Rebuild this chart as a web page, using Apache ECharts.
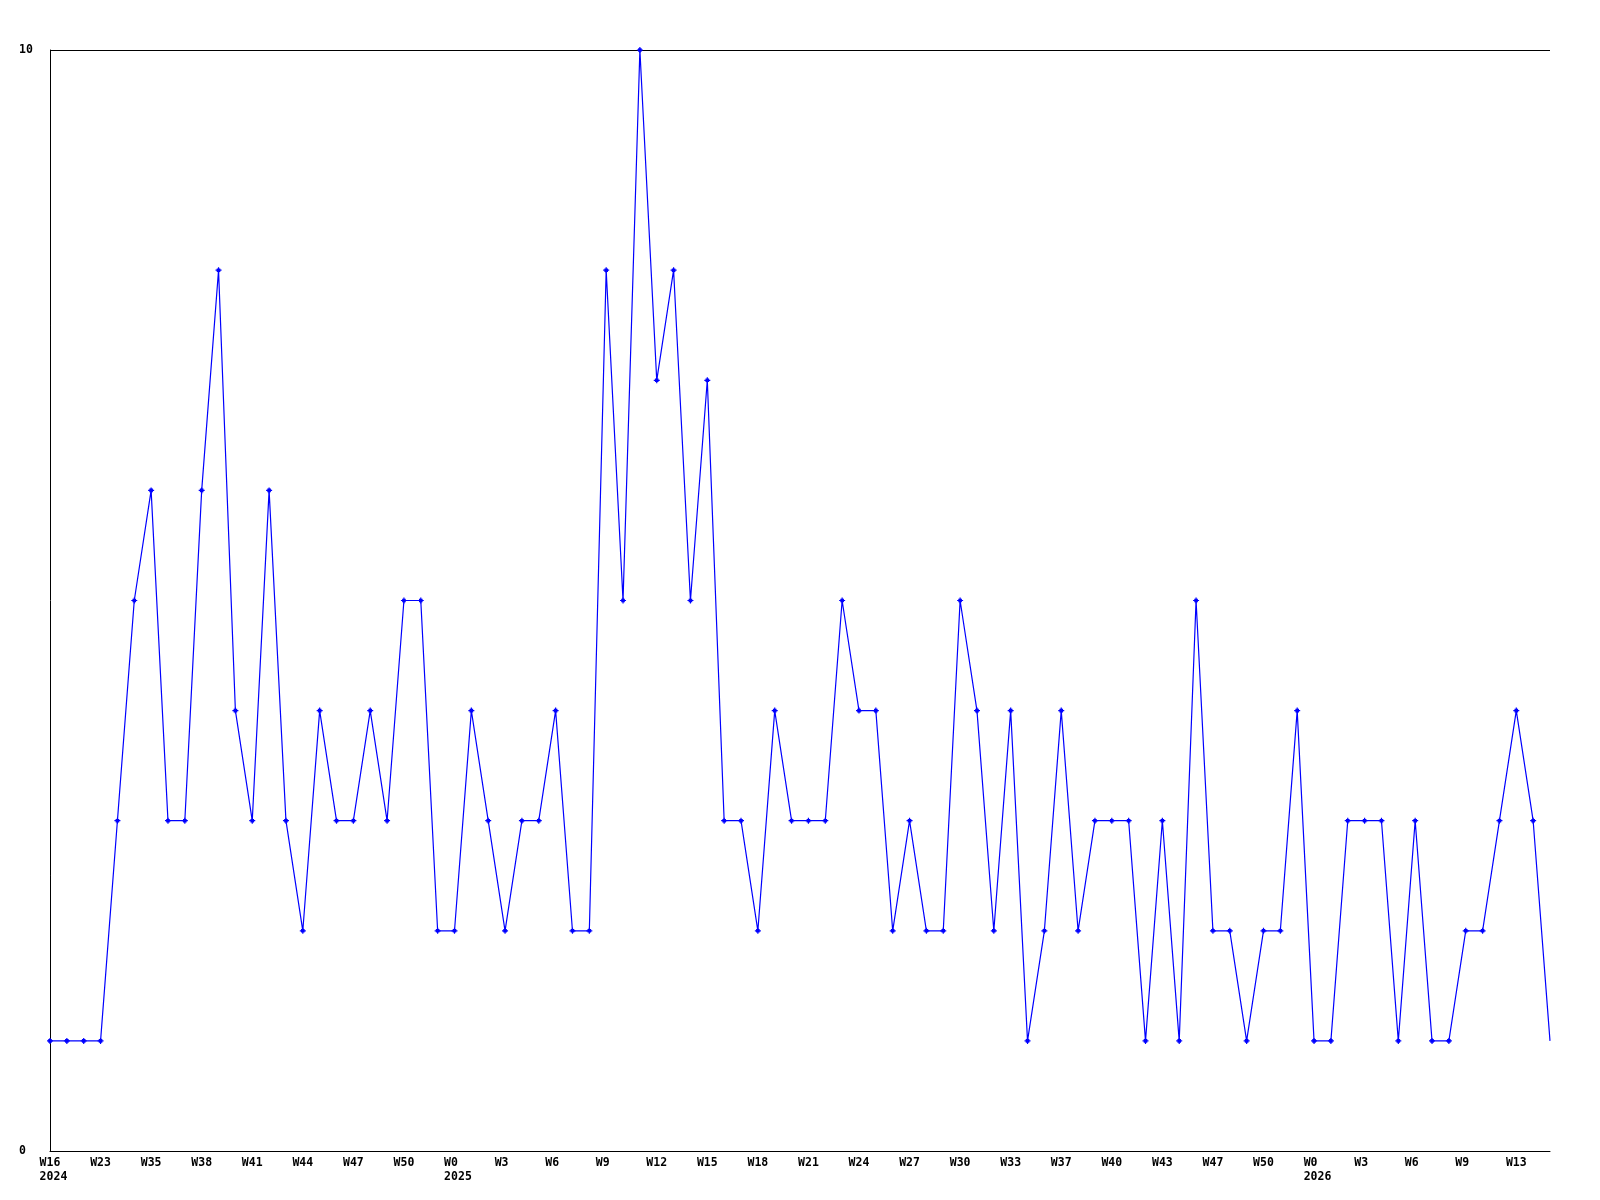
<!DOCTYPE html>
<html>
<head>
<meta charset="utf-8">
<script src="https://cdn.jsdelivr.net/npm/echarts@6/dist/echarts.min.js"></script>
<style>
html,body{margin:0;padding:0;background:#fff;}
#chart{width:1600px;height:1200px;}
</style>
</head>
<body>
<div id="chart"></div>
<script>
// Week categories (one per point)
const weeks = [
  "W16","W17","W22","W23","W33","W34","W35","W36","W37","W38",
  "W39","W40","W41","W42","W43","W44","W45","W46","W47","W48",
  "W49","W50","W51","W52","W0","W1","W2","W3","W4","W5",
  "W6","W7","W8","W9","W10","W11","W12","W13","W14","W15",
  "W16","W17","W18","W19","W20","W21","W22","W23","W24","W25",
  "W26","W27","W28","W29","W30","W31","W32","W33","W35","W36",
  "W37","W38","W39","W40","W41","W42","W43","W45","W46","W47",
  "W48","W49","W50","W51","W52","W0","W1","W2","W3","W4",
  "W5","W6","W7","W8","W9","W11","W12","W13","W14","W15"
];
// Year shown under the label at these category indices
const yearLabels = {0: "2024", 24: "2025", 75: "2026"};
// Values
const values = [
  1,1,1,1,3,5,6,3,3,6,
  8,4,3,6,3,2,4,3,3,4,
  3,5,5,2,2,4,3,2,3,3,
  4,2,2,8,5,10,7,8,5,7,
  3,3,2,4,3,3,3,5,4,4,
  2,3,2,2,5,4,2,4,1,2,
  4,2,3,3,3,1,3,1,5,2,
  2,1,2,2,4,1,1,3,3,3,
  1,3,1,1,2,2,3,4,3,1
];
const yTicks = [0, 10];

function padLine(s) {
  const L = s.length;
  if (L === 3) return s;
  if (L < 3) return s + " ".repeat(3 - L);
  return " ".repeat(L - 3) + s;
}

const seriesData = values.map((v, i) => i === values.length - 1 ? {value: v, symbol: 'none'} : v);

const chart = echarts.init(document.getElementById('chart'));
const font = '"DejaVu Sans Mono", "Liberation Mono", monospace';
chart.setOption({
  animation: false,
  backgroundColor: '#ffffff',
  grid: {left: 50, right: 50, top: 50, bottom: 49, containLabel: false},
  xAxis: {
    type: 'category',
    data: weeks,
    boundaryGap: false,
    axisLine: {show: true, lineStyle: {color: '#000', width: 1}},
    axisTick: {show: false},
    splitLine: {show: false},
    axisLabel: {
      interval: 2,
      margin: 5,
      color: '#000',
      fontFamily: font,
      fontWeight: 'bold',
      fontSize: 11.5,
      lineHeight: 14,
      align: 'center',
      formatter: function (val, idx) {
        let s = padLine(val);
        if (yearLabels[idx] !== undefined) s += "\n" + padLine(yearLabels[idx]);
        return s;
      }
    }
  },
  yAxis: {
    type: 'value',
    min: yTicks[0],
    max: yTicks[1],
    interval: 10,
    axisLine: {show: true, lineStyle: {color: '#000', width: 1}},
    axisTick: {show: false},
    splitLine: {show: true, lineStyle: {color: '#000', width: 1}},
    axisLabel: {
      color: '#000',
      fontFamily: font,
      fontWeight: 'bold',
      fontSize: 11.5,
      align: 'left',
      margin: 31
    }
  },
  series: [{
    type: 'line',
    data: seriesData,
    symbol: 'path://M2,0 L3,0 L3,1 L4,1 L4,2 L5,2 L5,3 L4,3 L4,4 L3,4 L3,5 L2,5 L2,4 L1,4 L1,3 L0,3 L0,2 L1,2 L1,1 L2,1 Z',
    symbolSize: 6,
    showAllSymbol: true,
    itemStyle: {color: '#0000ff'},
    lineStyle: {color: '#0000ff', width: 1.2},
    emphasis: {disabled: true}
  }]
});
</script>
</body>
</html>
